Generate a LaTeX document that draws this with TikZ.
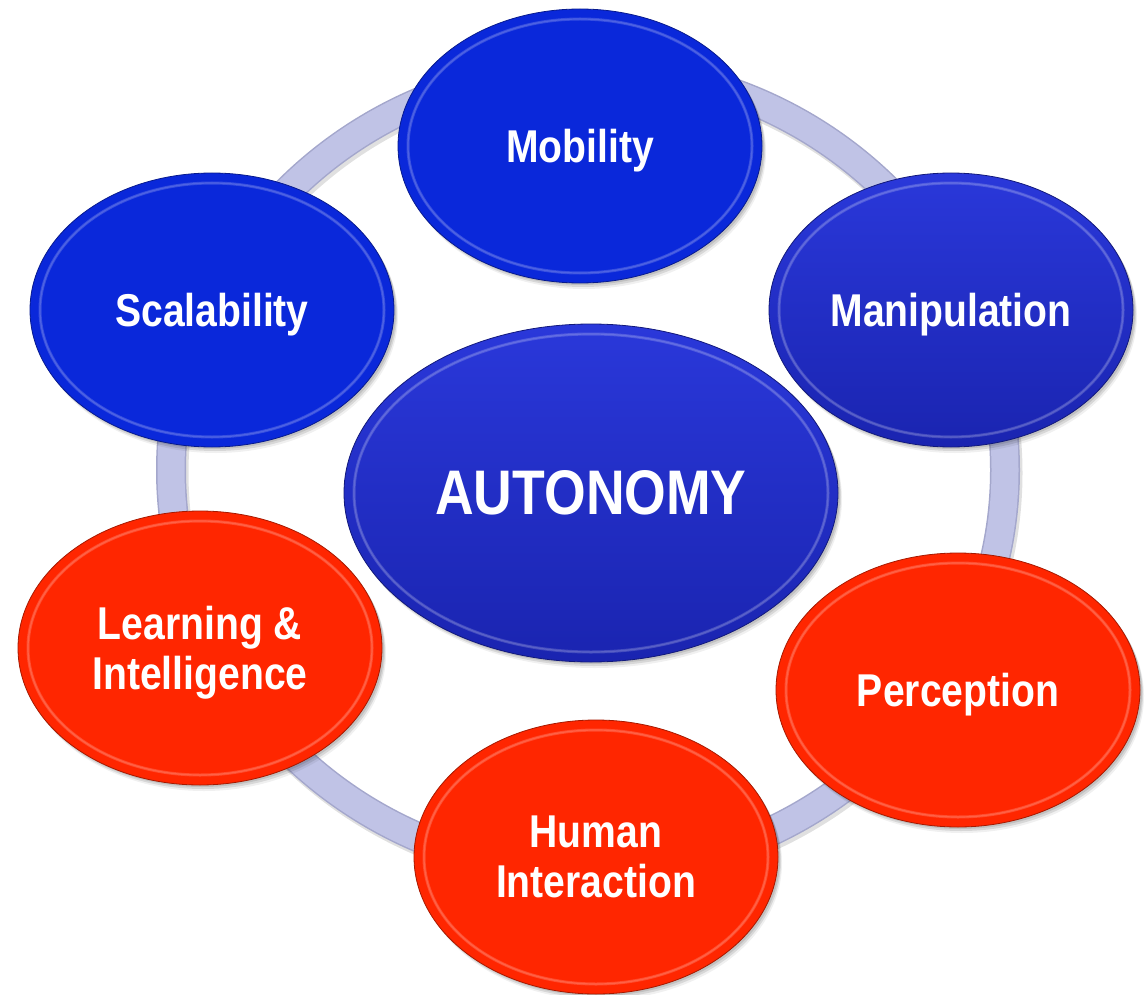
\documentclass[tikz,border=0pt]{standalone}
\usepackage{fontspec}
\setmainfont{Liberation Sans}[FakeStretch=0.85]
\usetikzlibrary{shapes.geometric,calc,shadows}
\definecolor{ringfill}{HTML}{C0C3E6}
\definecolor{ringedge}{HTML}{A4A7CC}
\definecolor{blueA}{HTML}{0A28DA}
\definecolor{blueTop}{HTML}{2A38DA}
\definecolor{blueBot}{HTML}{1A24B0}
\definecolor{redA}{HTML}{FF2600}
\begin{document}
\begin{tikzpicture}[x=1pt,y=-1pt,
  softshadow/.style={
    general shadow={shadow xshift=2pt, shadow yshift=-2pt, fill=black, opacity=.10},
    general shadow={shadow xshift=3pt, shadow yshift=-4pt, fill=black, opacity=.10},
    general shadow={shadow xshift=4pt, shadow yshift=-6pt, fill=black, opacity=.06}},
  bubble/.style={ellipse, inner sep=0pt, minimum width=364pt, minimum height=274pt,
    text=white, align=center, font=\bfseries\fontsize{46}{50}\selectfont,
    text depth=0pt, line width=0.8pt, softshadow},
  bevel/.style={path picture={
    \draw[white, opacity=.18, line width=3pt]
      let \p1=(path picture bounding box.north east),
          \p2=(path picture bounding box.center) in
      (\p2) ellipse [x radius={\x1-\x2-10pt}, y radius={\y1-\y2-10pt}];
    \draw[white, opacity=.12, line width=1.2pt]
      let \p1=(path picture bounding box.north east),
          \p2=(path picture bounding box.center) in
      (\p2) ellipse [x radius={\x1-\x2-10pt}, y radius={\y1-\y2-10pt}];}},
  flatblue/.style={bubble, bevel, fill=blueA, draw=blueA!65!black},
  deepblue/.style={bubble, bevel, top color=blueTop, bottom color=blueBot, draw=blueBot!70!black},
  redbub/.style={bubble, bevel, fill=redA, draw=redA!65!black}
]
\useasboundingbox (0,0) rectangle (1148,995);
\fill[white] (0,0) rectangle (1148,995);
% ring
\coordinate (rc) at (588,470);
\draw[black, opacity=.12, line width=31pt] ($(rc)+(2,3)$) ellipse [x radius=417, y radius=402];
\draw[ringedge, line width=30pt] (rc) ellipse [x radius=417, y radius=402];
\draw[ringfill, line width=27pt] (rc) ellipse [x radius=417, y radius=402];
% bubbles
\node[flatblue] (mob) at (580,146) {Mobility};
\node[flatblue] (sca) at (212,310) {Scalability};
\node[deepblue] (man) at (951,310) {Manipulation};
\node[deepblue, minimum width=494pt, minimum height=338pt,
      font=\bfseries\fontsize{63}{70}\selectfont] (aut) at (591,493) {AUTONOMY};
\node[redbub] (lea) at (200,648) {Learning \&\\Intelligence};
\node[redbub] (per) at (958,690) {Perception};
\node[redbub] (hum) at (596,857) {Human\\Interaction};
\end{tikzpicture}
\end{document}
